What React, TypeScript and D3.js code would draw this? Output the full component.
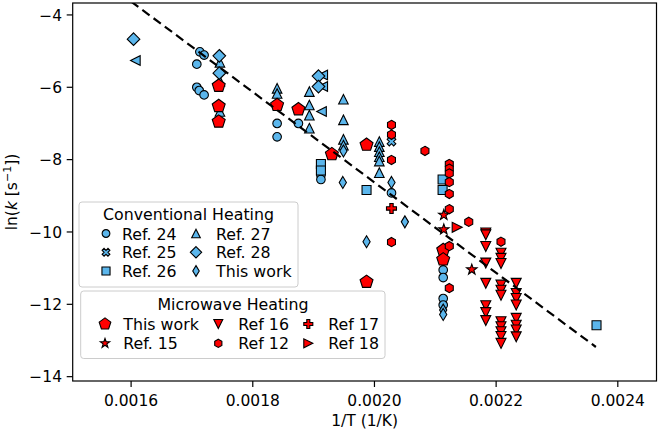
import React from "react";
import * as d3 from "d3";

// conventional heating
const ref24 = [
  [0.001713, -5.02], [0.00172, -5.11], [0.001708, -5.36], [0.001708, -6.0], [0.001712, -6.09], [0.00172, -6.21],
  [0.00184, -7.0], [0.00184, -7.37], [0.001875, -7.0], [0.001912, -8.43], [0.001912, -8.55],
  [0.002028, -8.92], [0.002113, -11.05], [0.002113, -11.26], [0.002113, -11.84], [0.002113, -12.02],
];
const ref25 = [[0.002028, -7.5]];
const ref26 = [
  [0.001912, -8.12], [0.001912, -8.3], [0.001987, -8.84], [0.002112, -8.55], [0.002112, -8.84], [0.002365, -12.58],
];
const ref27 = [
  [0.001746, -5.31], [0.001746, -5.83], [0.001746, -6.67], [0.00184, -6.03], [0.00184, -6.17],
  [0.001893, -6.12], [0.001893, -6.49], [0.001893, -6.77], [0.001893, -7.13],
  [0.001949, -6.33], [0.001949, -6.9], [0.001949, -7.44], [0.001949, -7.6],
  [0.002008, -7.5], [0.002008, -7.64], [0.002008, -7.78], [0.002008, -7.92], [0.002008, -8.04], [0.002008, -8.36],
];
const ref28 = [[0.001604, -4.67], [0.001745, -5.13], [0.001745, -5.61], [0.001908, -5.69], [0.001908, -5.98]];
const extraLeft = [[0.001607, -5.26], [0.001915, -5.66], [0.001915, -5.98], [0.001913, -6.67]];
const convThisWork = [
  [0.001949, -7.76], [0.001948, -8.63], [0.002028, -8.63], [0.00205, -9.72], [0.001987, -10.27],
  [0.002113, -12.16], [0.002113, -12.28],
];

// microwave heating
const mwThisWork = [
  [0.001744, -5.96], [0.001744, -6.52], [0.001744, -6.95], [0.00184, -6.49], [0.001875, -6.61],
  [0.00193, -7.85], [0.001987, -7.59], [0.001987, -11.38], [0.002113, -10.5], [0.002113, -10.76],
];
const ref15 = [[0.002114, -9.53], [0.002114, -9.93], [0.00216, -11.04]];
const ref16 = [
  [0.002183, -10.03], [0.002183, -10.08], [0.002183, -10.4], [0.002183, -10.86], [0.002183, -11.42],
  [0.002183, -12.04], [0.002183, -12.23], [0.002183, -12.45],
  [0.002208, -10.59], [0.002208, -10.73], [0.002208, -10.87], [0.002208, -11.47], [0.002208, -11.61],
  [0.002208, -11.75], [0.002208, -12.48], [0.002208, -12.62], [0.002208, -12.76], [0.002208, -12.89], [0.002208, -13.08],
  [0.002233, -11.42], [0.002233, -11.7], [0.002233, -11.84], [0.002233, -12.02], [0.002233, -12.39],
  [0.002233, -12.58], [0.002233, -12.71], [0.002233, -12.9],
];
const ref12 = [
  [0.002028, -7.04], [0.002028, -7.31], [0.002028, -8.01], [0.002028, -10.28], [0.002083, -7.76],
  [0.002123, -8.12], [0.002123, -8.25], [0.002123, -8.38], [0.002123, -8.62], [0.002123, -8.95],
  [0.002123, -9.37], [0.002123, -10.39], [0.002123, -11.55], [0.002155, -9.72], [0.002208, -10.27],
];
const ref17 = [[0.002028, -9.35]];
const ref18 = [[0.002136, -9.87]];

const fitX = [0.0016, 0.002364];
const fitY = [-3.63, -13.18];

const xTicks = [0.0016, 0.0018, 0.002, 0.0022, 0.0024];
const yTicks = [-4, -6, -8, -10, -12, -14];

const BLUE = "#5bb6ec";
const RED = "#ff0000";
const FONT = "DejaVu Sans";

const poly = (pts) => ({
  draw(ctx, r) {
    pts.forEach(([a, b], i) => (i ? ctx.lineTo(a * r, b * r) : ctx.moveTo(a * r, b * r)));
    ctx.closePath();
  },
});
const ngon = (n, start, inner) => {
  const pts = [];
  const k = inner ? 2 * n : n;
  for (let i = 0; i < k; i++) {
    const a = ((start + (360 / k) * i) * Math.PI) / 180;
    const rr = inner && i % 2 ? inner : 1;
    pts.push([rr * Math.cos(a), rr * Math.sin(a)]);
  }
  return poly(pts);
};
const plusPts = [[-1, -3], [-1, -1], [-3, -1], [-3, 1], [-1, 1], [-1, 3], [1, 3], [1, 1], [3, 1], [3, -1], [1, -1], [1, -3]].map(
  ([a, b]) => [a / 3, b / 3]
);
const shapes = {
  circle: { draw(ctx, r) { ctx.moveTo(r, 0); ctx.arc(0, 0, r, 0, 2 * Math.PI); } },
  square: poly([[-1, -1], [1, -1], [1, 1], [-1, 1]]),
  up: poly([[0, -1], [1, 1], [-1, 1]]),
  down: poly([[0, 1], [1, -1], [-1, -1]]),
  right: poly([[1, 0], [-1, 1], [-1, -1]]),
  left: poly([[-1, 0], [1, -1], [1, 1]]),
  diamond: poly([[0, -1], [1, 0], [0, 1], [-1, 0]]),
  thin: poly([[0, -1], [0.6, 0], [0, 1], [-0.6, 0]]),
  pentagon: ngon(5, -90),
  hexagon: ngon(6, -90),
  star: ngon(5, -90, 0.4),
  plus: poly(plusPts),
  x: poly(plusPts.map(([a, b]) => [(a - b) * Math.SQRT1_2, (a + b) * Math.SQRT1_2])),
};

const conv = [
  { label: "Ref. 24", data: ref24, shape: "circle", r: 4.3, fill: BLUE },
  { label: "Ref. 25", data: ref25, shape: "x", r: 4.6, fill: BLUE },
  { label: "Ref. 26", data: ref26, shape: "square", r: 4.5, fill: BLUE },
  { label: "Ref. 27", data: ref27, shape: "up", r: 4.8, fill: BLUE },
  { label: "Ref. 28", data: ref28, shape: "diamond", r: 6.3, fill: BLUE },
  { label: "This work", data: convThisWork, shape: "thin", r: 6, fill: BLUE },
];
const extra = { data: extraLeft, shape: "left", r: 4.8, fill: BLUE };
const mw = [
  { label: "This work", data: mwThisWork, shape: "pentagon", r: 6.8, fill: RED },
  { label: "Ref. 15", data: ref15, shape: "star", r: 5.5, fill: RED },
  { label: "Ref 16", data: ref16, shape: "down", r: 5, fill: RED },
  { label: "Ref 12", data: ref12, shape: "hexagon", r: 4.6, fill: RED },
  { label: "Ref 17", data: ref17, shape: "plus", r: 5, fill: RED },
  { label: "Ref 18", data: ref18, shape: "right", r: 5, fill: RED },
];

const sym = (shape, r) => d3.symbol(shapes[shape], r)();

export default function App() {
  const width = 661;
  const height = 432;
  const left = 72.7, right = 656.5, top = 3, bottom = 381;

  const x = d3.scaleLinear().domain([0.001504, 0.0024636]).range([left, right]);
  const y = d3.scaleLinear().domain([-14.12, -3.67]).range([bottom, top]);
  const line = d3.line().x((d) => x(d[0])).y((d) => y(d[1]));
  const fit = fitX.map((v, i) => [v, fitY[i]]);

  const marks = (s, key) =>
    s.data.map((d, i) => (
      <path
        key={key + i}
        d={sym(s.shape, s.r)}
        transform={`translate(${x(d[0])},${y(d[1])})`}
        fill={s.fill}
        stroke="#000"
        strokeWidth={1.1}
      />
    ));

  const convCols = [106, 196];
  const convText = [122, 216];
  const convRows = [233.5, 252.3, 271];
  const mwCols = [105, 218.3, 308.3];
  const mwText = [123.3, 238.3, 328.3];
  const mwRows = [324, 343.3];

  return (
    <svg width={width} height={height} style={{ position: "absolute", left: 0, top: 0, background: "#fff" }} fontFamily={FONT}>
      <defs>
        <clipPath id="plot">
          <rect x={left} y={top} width={right - left} height={bottom - top} />
        </clipPath>
      </defs>
      <g clipPath="url(#plot)">
        {marks(extra, "e")}
        {conv.map((s, j) => marks(s, "c" + j))}
        {mw.map((s, j) => marks(s, "m" + j))}
        <path d={line(fit)} fill="none" stroke="#000" strokeWidth={2.2} strokeDasharray="9,5" />
      </g>
      <rect x={left} y={top} width={right - left} height={bottom - top} fill="none" stroke="#000" strokeWidth={1.2} />
      {xTicks.map((t) => (
        <g key={"x" + t}>
          <line x1={x(t)} x2={x(t)} y1={bottom} y2={bottom + 6} stroke="#000" strokeWidth={1.2} />
          <text x={x(t)} y={406} textAnchor="middle" fontSize={15.5}>{d3.format(".4f")(t)}</text>
        </g>
      ))}
      {yTicks.map((t) => (
        <g key={"y" + t}>
          <line x1={left - 6} x2={left} y1={y(t)} y2={y(t)} stroke="#000" strokeWidth={1.2} />
          <text x={62} y={y(t)} dy="0.36em" textAnchor="end" fontSize={15.5}>{d3.format("d")(t)}</text>
        </g>
      ))}
      <text x={(left + right) / 2} y={426} textAnchor="middle" fontSize={15.5}>1/T (1/K)</text>
      <text transform="translate(17,192) rotate(-90)" textAnchor="middle" fontSize={15.5}>
        ln(<tspan fontStyle="italic">k</tspan> [s<tspan fontSize={11} dy={-6}>−1</tspan><tspan dy={6}>])</tspan>
      </text>

      <rect x={79} y={202} width={219} height={85} rx={3} fill="#fff" fillOpacity={0.8} stroke="#ccc" />
      <text x={188.5} y={219.5} textAnchor="middle" fontSize={15.8}>Conventional Heating</text>
      {conv.map((s, i) => {
        const c = Math.floor(i / 3), r = i % 3;
        return (
          <g key={"cl" + i}>
            <path d={sym(s.shape, s.r * 0.9)} transform={`translate(${convCols[c]},${convRows[r]})`} fill={s.fill} stroke="#000" strokeWidth={1.1} />
            <text x={convText[c]} y={convRows[r] + 6} fontSize={15.8}>{s.label}</text>
          </g>
        );
      })}

      <rect x={80.7} y={291} width={304.3} height={67.5} rx={3} fill="#fff" fillOpacity={0.8} stroke="#ccc" />
      <text x={233} y={309.5} textAnchor="middle" fontSize={15.8}>Microwave Heating</text>
      {mw.map((s, i) => {
        const c = Math.floor(i / 2), r = i % 2;
        return (
          <g key={"ml" + i}>
            <path d={sym(s.shape, s.r * 0.9)} transform={`translate(${mwCols[c]},${mwRows[r]})`} fill={s.fill} stroke="#000" strokeWidth={1.1} />
            <text x={mwText[c]} y={mwRows[r] + 6} fontSize={15.8}>{s.label}</text>
          </g>
        );
      })}
    </svg>
  );
}
